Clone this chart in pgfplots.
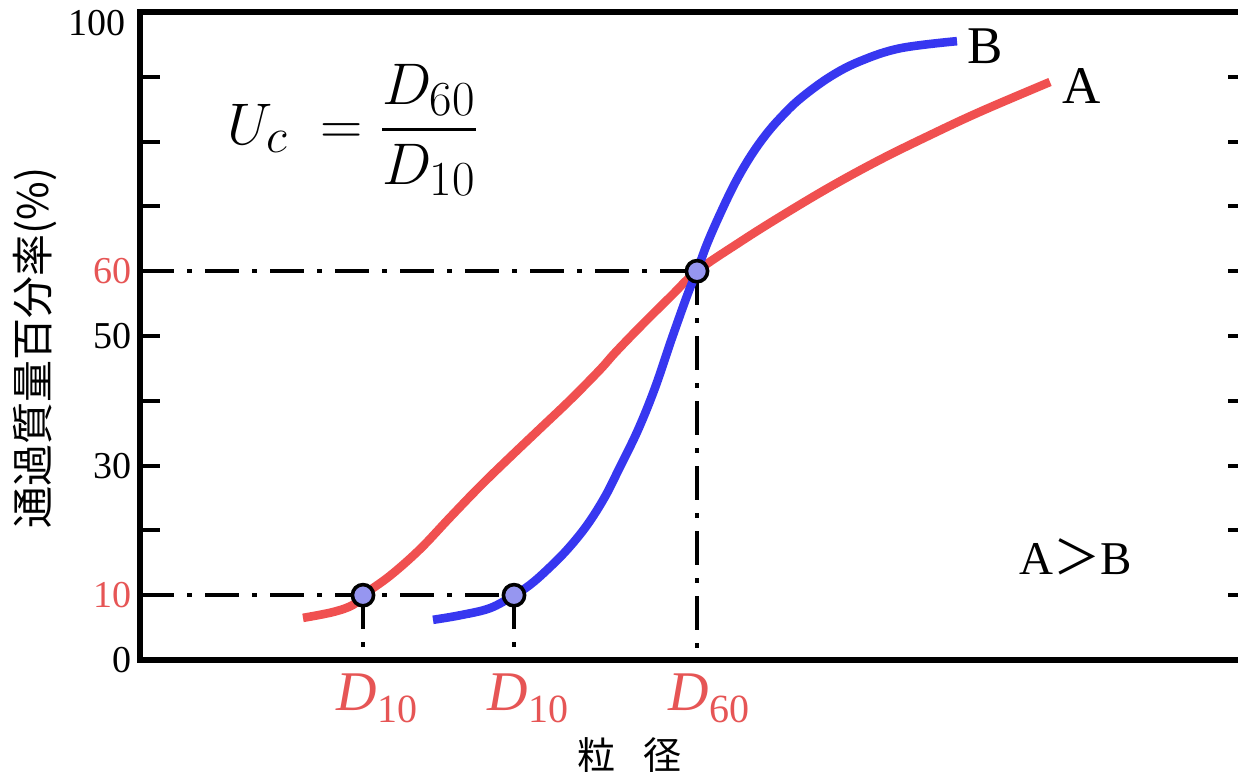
\documentclass[border=0pt]{standalone}
\usepackage{amsmath}
\usepackage{fontspec}
\setmainfont{Liberation Serif}
\newfontfamily\cjk{Noto Sans CJK JP}
\usepackage{pgfplots}
\pgfplotsset{compat=1.18}
\definecolor{cred}{RGB}{240,80,80}
\definecolor{cblue}{RGB}{55,55,240}
\definecolor{cdot}{RGB}{150,150,240}
\definecolor{tred}{RGB}{230,85,85}
\newcommand{\Dlab}[1]{\fontsize{28}{30}\selectfont\textit{D}\raisebox{-6pt}{\fontsize{20}{22}\selectfont #1}}
\begin{document}
\begin{tikzpicture}[x=1pt,y=1pt]
\useasboundingbox (0,0) rectangle (619,386);
\begin{axis}[
  at={(70pt,56pt)}, anchor=south west,
  scale only axis, width=554pt, height=324pt,
  xmin=140, xmax=1248, ymin=0, ymax=100,
  axis line style={line width=2.6pt},
  xtick=\empty,
  ytick={0,10,20,30,40,50,60,70,80,90,100},
  yticklabels={0,\textcolor{tred}{10},{},30,{},50,\textcolor{tred}{60},{},{},{},{}},
  tick style={black, line width=2pt},
  major tick length=10pt,
  tick align=inside,
  yticklabel style={font=\fontsize{19}{22}\selectfont, inner sep=0pt, xshift=-4pt},
  clip=false,
  ylabel={\cjk 通過質量百分率(\%)},
  ylabel style={at={(axis description cs:-0.0948,0.481)}, anchor=center, inner sep=0pt, font=\fontsize{21}{24}\selectfont},
  xlabel={\cjk 粒\hspace{0.75em}径},
  xlabel style={at={(axis description cs:0.442,-0.119)}, anchor=north, inner sep=0pt, font=\fontsize{19}{22}\selectfont},
]
% reference dash-dot lines
\addplot[black, line width=1.8pt, dash pattern=on 17pt off 6.5pt on 2.5pt off 6.5pt] coordinates {(140,60) (697,60)};
\addplot[black, line width=1.8pt, dash pattern=on 17pt off 6.5pt on 2.5pt off 6.5pt] coordinates {(697,60) (697,0)};
\addplot[black, line width=1.8pt, dash pattern=on 17pt off 6.5pt on 2.5pt off 6.5pt] coordinates {(140,10) (514,10)};
\addplot[black, line width=1.8pt, dash pattern=on 17pt off 6.5pt on 2.5pt off 6.5pt] coordinates {(363,10) (363,0)};
\addplot[black, line width=1.8pt, dash pattern=on 17pt off 6.5pt on 2.5pt off 6.5pt] coordinates {(514,10) (514,0)};
% curve A
\addplot[cred, line width=4.3pt, smooth, tension=0.6] coordinates {
 (303,6.5)(333,7.4)(353,8.5)(363,10)(390,13.0)(420,17.1)(450,22.0)(480,26.8)
 (510,31.3)(540,35.7)(570,40.1)(600,44.8)(615,47.4)(640,51.4)(670,56.0)(697,60)
 (740,64.5)(780,68.4)(830,73.0)(880,77.2)(930,81.0)(980,84.6)(1050,89.2)};
% curve B
\addplot[cblue, line width=4.3pt, smooth, tension=0.6] coordinates {
 (433,6.2)(460,6.9)(490,8.0)(514,10)(530,11.6)(547,13.9)(567,17.0)(587,20.8)
 (605,25.2)(620,29.8)(638,35.5)(655,42.0)(672,49.7)(688,56.6)(697,60)(707,64.2)
 (720,68.8)(735,73.6)(750,77.6)(765,80.9)(780,83.6)(800,86.6)(830,90.0)(860,92.4)
 (900,94.4)(957,95.5)};
% points
\addplot[only marks, mark=*, mark size=5.3pt, mark options={fill=cdot, draw=black, line width=1.8pt}] coordinates {(363,10)(514,10)(697,60)};
% labels
\node[anchor=east, inner sep=0pt, font=\fontsize{19}{22}\selectfont] at (rel axis cs:0,1) [xshift=-7pt, yshift=-5.5pt] {100};
\node[anchor=north, inner sep=0pt, text=tred] at (axis cs:377,-2) {\Dlab{10}};
\node[anchor=north, inner sep=0pt, text=tred] at (axis cs:528,-2) {\Dlab{10}};
\node[anchor=north, inner sep=0pt, text=tred] at (axis cs:709,-2) {\Dlab{60}};
\node[font=\fontsize{26.5}{30}\selectfont] at (axis cs:1082,88.6) {A};
\node[font=\fontsize{26.5}{30}\selectfont] at (axis cs:985,94.75) {B};
\node[font=\fontsize{23.5}{28}\selectfont] at (axis cs:1076,15.9) {A{\cjk ＞}B};
\node[font=\fontsize{24.88}{30}\selectfont, scale=1.18] at (axis cs:353,81.8) {$U_c \mathrel{\;=} \dfrac{D_{60}}{D_{10}}$};
\end{axis}
\end{tikzpicture}
\end{document}
